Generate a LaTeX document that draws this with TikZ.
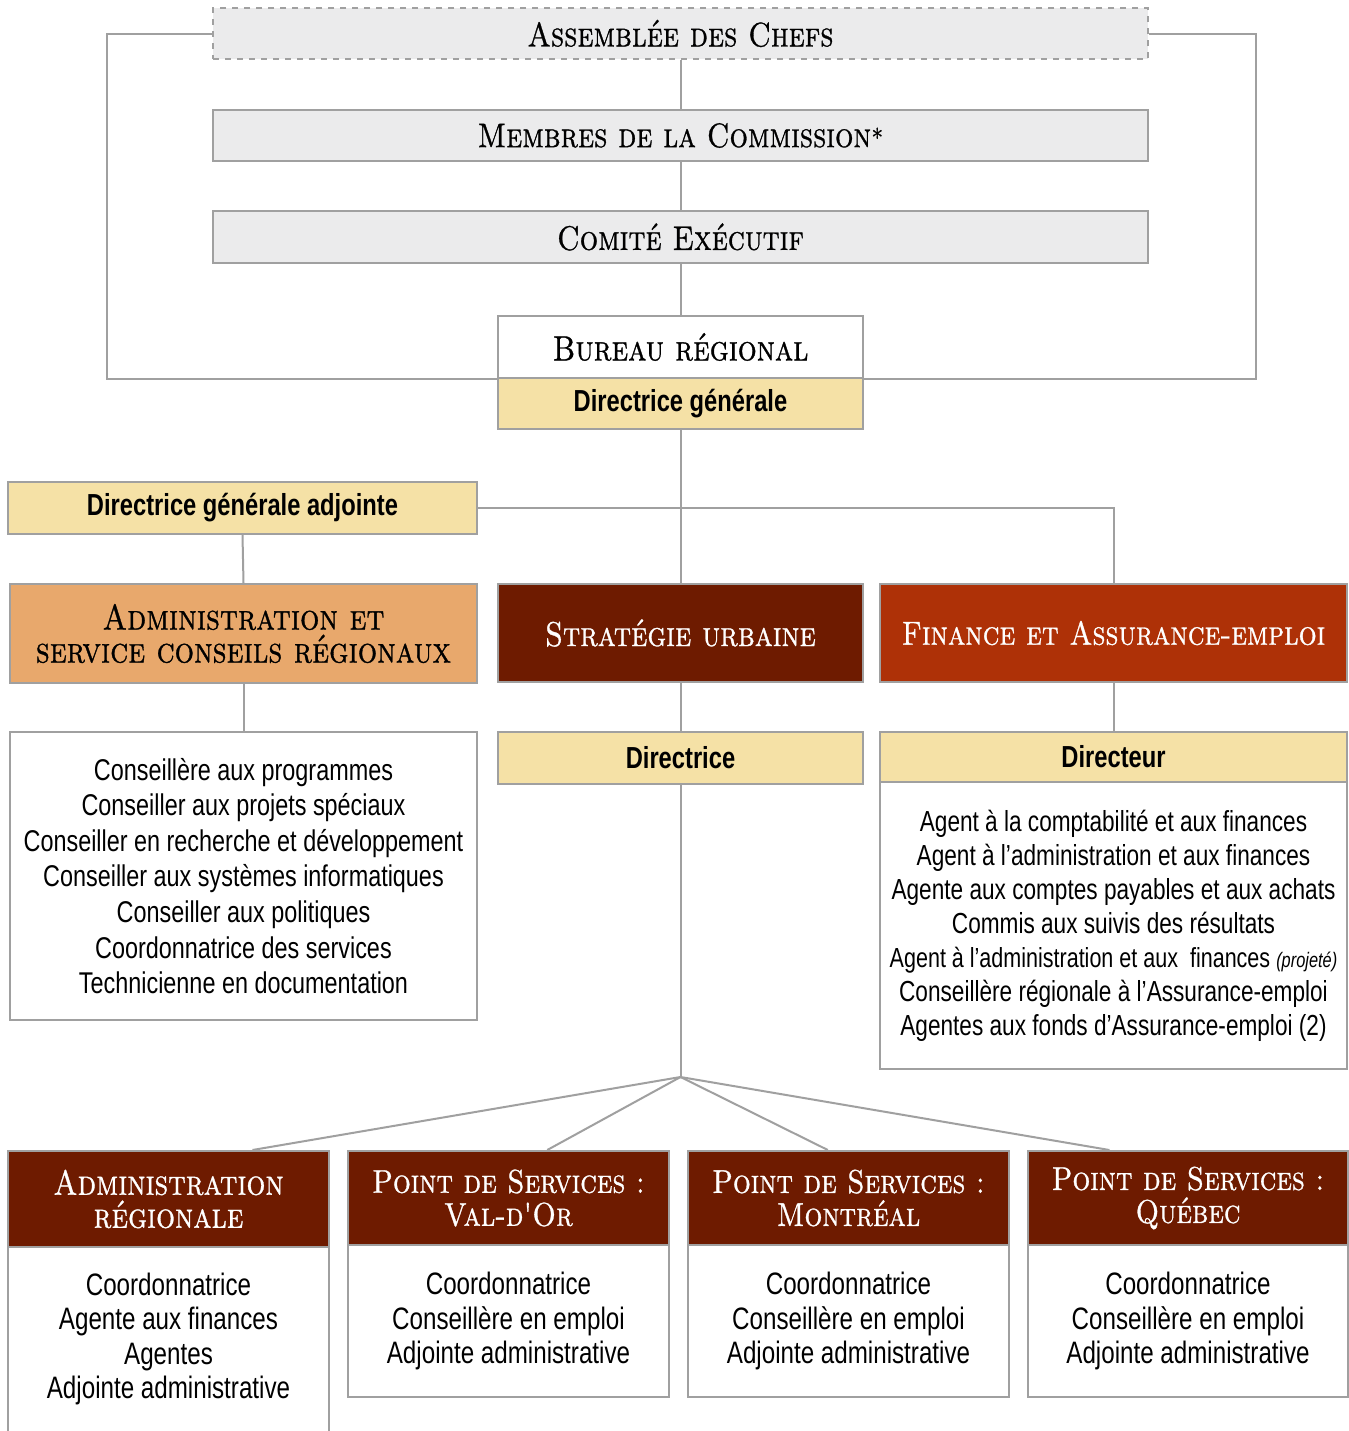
\documentclass[tikz,border=0pt]{standalone}
\usepackage{fontspec}
\usetikzlibrary{calc}
\newfontfamily\bodyf[FakeStretch=0.78]{Liberation Sans}
\newfontfamily\headf{lmroman10-regular.otf}[SmallCapsFont=lmromancaps10-regular.otf,FakeStretch=0.85,FakeBold=0.9]
\definecolor{linegray}{RGB}{160,160,160}
\definecolor{boxgray}{RGB}{235,235,236}
\definecolor{yel}{RGB}{245,225,166}
\definecolor{orng}{RGB}{232,168,108}
\definecolor{dred}{RGB}{110,27,0}
\definecolor{fred}{RGB}{174,49,7}
\tikzset{
  box/.style={draw=linegray,line width=1pt,inner sep=0pt,align=center,anchor=center},
  graybox/.style={box,fill=boxgray,font=\headf\scshape\fontsize{17}{19}\selectfont},
  yelbox/.style={box,fill=yel,font=\bodyf\bfseries\fontsize{15.2}{17}\selectfont},
  redhead/.style={box,text=white,font=\headf\scshape\fontsize{17.2}{16}\selectfont},
  bothead/.style={box,fill=dred,text=white,font=\headf\scshape\fontsize{16.5}{16.5}\selectfont},
  listbox/.style={box,fill=white,font=\bodyf\fontsize{15}{17.8}\selectfont},
  botlist/.style={listbox,font=\bodyf\fontsize{15.5}{17.3}\selectfont},
  conn/.style={draw=linegray,line width=1pt},
}
\begin{document}
\begin{tikzpicture}[x=0.5pt,y=-0.5pt]
\clip (0,0) rectangle (1349,1431);
\fill[white] (0,0) rectangle (1349,1431);
% top chain
\node[graybox,dashed,minimum width=467.5pt,minimum height=25.5pt] (asm) at (680.5,33.5) {Assemblée des Chefs};
\node[graybox,minimum width=467.5pt,minimum height=25.5pt] (mem) at (680.5,135.5) {Membres de la Commission{\fontsize{13}{13}\selectfont*}};
\node[graybox,minimum width=467.5pt,minimum height=26pt] (com) at (680.5,237) {Comité Exécutif};
\node[box,fill=white,font=\headf\scshape\fontsize{17.5}{19}\selectfont,minimum width=182.5pt,minimum height=31pt] (bur) at (680.5,347) {Bureau régional};
\node[yelbox,minimum width=182.5pt,minimum height=25.5pt] (dg) at (680.5,403.5) {Directrice générale};
% second level
\node[yelbox,minimum width=234.5pt,minimum height=26pt] (dga) at (242.5,508) {Directrice générale adjointe};
\node[box,fill=orng,font=\headf\scshape\fontsize{17.9}{16.5}\selectfont,minimum width=233.5pt,minimum height=49.5pt] (adm) at (243.5,633.5) {Administration et\\service conseils régionaux};
\node[redhead,fill=dred,minimum width=182.5pt,minimum height=49pt] (strat) at (680.5,633) {Stratégie urbaine};
\node[redhead,fill=fred,font=\headf\scshape\fontsize{16.7}{16}\selectfont,minimum width=233.5pt,minimum height=49pt] (fin) at (1113.5,633) {Finance et Assurance-emploi};
% third level
\node[listbox,minimum width=233.5pt,minimum height=144pt] (admlist) at (243.5,876) {Conseillère aux programmes\\Conseiller aux projets spéciaux\\Conseiller en recherche et développement\\Conseiller aux systèmes informatiques\\Conseiller aux politiques\\Coordonnatrice des services\\Technicienne en documentation};
\node[yelbox,minimum width=182.5pt,minimum height=26pt] (dir) at (680.5,758) {Directrice};
\node[yelbox,minimum width=233.5pt,minimum height=25pt] (dirr) at (1113.5,757) {Directeur};
\node[listbox,minimum width=233.5pt,minimum height=143.5pt,font=\bodyf\fontsize{14.5}{17}\selectfont] (finlist) at (1113.5,925.5) {Agent à la comptabilité et aux finances\\Agent à l’administration et aux finances\\Agente aux comptes payables et aux achats\\Commis aux suivis des résultats\\{\fontsize{13.8}{17}\selectfont Agent à l’administration et aux\ \ finances {\itshape\fontsize{10.5}{17}\selectfont(projeté)}}\\Conseillère régionale à l’Assurance-emploi\\Agentes aux fonds d’Assurance-emploi (2)};
% bottom level
\node[bothead,font=\headf\scshape\fontsize{17.5}{16.5}\selectfont,minimum width=160.5pt,minimum height=48pt] (b1) at (168.5,1199) {Administration\\régionale};
\node[bothead,minimum width=160.5pt,minimum height=47pt] (b2) at (508.5,1198) {Point de Services :\\Val-d'Or};
\node[bothead,minimum width=160.5pt,minimum height=47pt] (b3) at (848.5,1198) {Point de Services :\\Montréal};
\node[bothead,minimum width=160pt,minimum height=47pt] (b4) at (1188,1198) {Point de Services :\\Québec};
\node[box,fill=white,minimum width=160.5pt,minimum height=100pt] (b1l) at (168.5,1347) {};
\node[botlist,draw=none,fill=none] (b1t) at (168.5,1339) {Coordonnatrice\\Agente aux finances\\Agentes\\Adjointe administrative};
\node[botlist,minimum width=160.5pt,minimum height=76pt] (b2l) at (508.5,1321) {Coordonnatrice\\Conseillère en emploi\\Adjointe administrative};
\node[botlist,minimum width=160.5pt,minimum height=76pt] (b3l) at (848.5,1321) {Coordonnatrice\\Conseillère en emploi\\Adjointe administrative};
\node[botlist,minimum width=160pt,minimum height=76pt] (b4l) at (1188,1321) {Coordonnatrice\\Conseillère en emploi\\Adjointe administrative};
% connectors
\draw[conn] (asm.south) -- (mem.north);
\draw[conn] (mem.south) -- (com.north);
\draw[conn] (com.south) -- (bur.north);
\draw[conn] (asm.west) -- ++(-105,0) |- (bur.south west);
\draw[conn] (asm.east) -- ++(107,0) |- (bur.south east);
\draw[conn] (dg.south) -- (strat.north);
\draw[conn] (dga.east) -| (fin.north);
\draw[conn] (dga.south) -- (adm.north);
\draw[conn] (adm.south) -- (admlist.north);
\draw[conn] (strat.south) -- (dir.north);
\draw[conn] (fin.south) -- (dirr.north);
\coordinate (fan) at (680.5,1077);
\draw[conn] (dir.south) -- (fan);
\draw[conn] (fan) -- ($(b1.north west)!0.76!(b1.north east)$);
\draw[conn] (fan) -- ($(b2.north west)!0.62!(b2.north east)$);
\draw[conn] (fan) -- ($(b3.north west)!0.436!(b3.north east)$);
\draw[conn] (fan) -- ($(b4.north west)!0.256!(b4.north east)$);
\end{tikzpicture}
\end{document}
